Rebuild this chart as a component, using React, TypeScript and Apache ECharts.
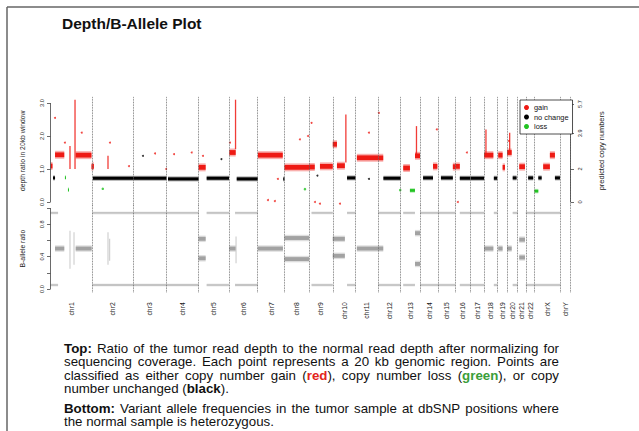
import React, { useEffect, useRef } from 'react';
import * as echarts from 'echarts';

// ---------- data ----------
const chromNames = ['chr1','chr2','chr3','chr4','chr5','chr6','chr7','chr8','chr9','chr10','chr11','chr12','chr13','chr14','chr15','chr16','chr17','chr18','chr19','chr20','chr21','chr22','chrX','chrY'];
const chromLengthsMb = [249.3, 243.2, 198.0, 191.2, 180.9, 171.1, 159.1, 146.4, 141.2, 135.5, 135.0, 133.9, 115.2, 107.3, 102.5, 90.4, 81.2, 78.1, 59.1, 63.0, 48.1, 51.3, 155.3, 59.4];

// depth ratio segments: [chromIndex, startMb, endMb, ratio]
const gainSegments = [
  [0, 1, 12, 1.09], [0, 27, 82, 1.43], [0, 150, 244, 1.42], [0, 244, 249, 1.07],
  [1, 0, 9, 1.08], [4, 0, 42, 1.05], [5, 2, 40, 1.5], [6, 1, 149, 1.42],
  [7, 0, 146, 1.05], [8, 0, 34, 1.06], [8, 65, 141, 1.08], [9, 0, 25, 1.75],
  [9, 25, 72, 1.1], [10, 8, 135, 1.34], [11, 0, 30, 1.34], [12, 15, 55, 1.03],
  [12, 85, 115, 1.4], [13, 77, 103, 1.08], [14, 88, 102, 1.07], [15, 0, 27, 1.08],
  [17, 0, 55, 1.42], [18, 6, 32, 1.42], [18, 32, 46, 1.05], [19, 0, 27, 1.5],
  [20, 9, 43, 1.07], [22, 52, 92, 1.07], [22, 92, 122, 1.42],
];
const neutralSegments = [
  [0, 15, 27, 0.73], [1, 3, 243, 0.72], [2, 0, 198, 0.72], [3, 9, 191, 0.7],
  [4, 48, 181, 0.72], [5, 46, 171, 0.7], [6, 152, 159, 0.7], [9, 85, 135, 0.73],
  [11, 31, 134, 0.72], [13, 18, 77, 0.73], [14, 17, 88, 0.73], [15, 27, 88, 0.72],
  [16, 0, 81, 0.72], [17, 58, 78, 0.72], [19, 33, 56, 0.73], [21, 14, 44, 0.73],
  [22, 23, 43, 0.73], [22, 122, 152, 0.73],
];
const lossSegments = [
  [0, 86, 90, 0.74], [0, 104, 108, 0.37], [12, 55, 85, 0.35], [22, 0, 23, 0.33],
];
// vertical streaks of gain points: [chromIndex, posMb, low, high]
const gainSpikes = [
  [0, 146, 1.0, 3.1], [0, 116, 1.0, 1.7], [1, 93, 1.0, 1.4], [5, 39, 1.6, 3.1],
  [9, 78, 1.2, 2.65], [12, 94, 1.4, 2.3], [17, 11, 1.4, 2.2], [19, 15, 1.5, 2.1],
];
// isolated points: [chromIndex, posMb, ratio]
const gainOutliers = [
  [0, 27, 2.55], [0, 86, 1.8], [0, 186, 2.1], [1, 105, 1.8], [1, 218, 1.09],
  [2, 130, 1.47], [2, 196, 1.0], [3, 45, 1.45], [3, 150, 1.5], [4, 26, 1.4],
  [5, 6, 1.8], [6, 61, 0.06], [6, 102, 0.03], [6, 120, 0.7], [7, 92, 1.9],
  [7, 140, 2.0], [8, 35, 0.0], [8, 65, -0.05], [8, 15, 2.4], [10, 80, 2.1],
  [11, 4, 2.7], [13, 100, 2.2], [15, 69, 1.5], [15, 15, 0.0], [9, 43, -0.05],
  [19, 11, 1.85],
];
const neutralOutliers = [[2, 58, 1.4], [4, 136, 1.3], [10, 80, 0.7], [8, 50, 0.8]];
const lossOutliers = [[1, 62, 0.4], [7, 122, 0.39], [11, 131, 0.36]];

const depthTicks = [0, 1, 2, 3];
const copyTickRatios = [0, 1, 2.08, 2.97];
const copyTickLabels = ['0', '2', '3.9', '5.7'];

// B-allele panel
const bafTicks = [0, 0.2, 0.4, 0.6, 0.8, 1.0];
const bafLabelValues = [0, 0.4, 0.8];
const homLevels = [0.05, 0.94];
// homozygous bands: [chromIndex, startMb, endMb]
const homRegions = [
  [0, 0, 45], [1, 0, 243.2], [2, 0, 198], [3, 0, 191.2], [4, 48, 180.9], [5, 36, 171.1],
  [8, 15, 141.2], [9, 85, 135.5], [11, 0, 133.9], [12, 15, 85], [13, 0, 107.3],
  [14, 0, 102.5], [15, 27, 90.4], [16, 0, 81.2], [17, 58, 78.1], [19, 33, 63],
  [21, 0, 51.3], [22, 0, 155.3],
];
// heterozygous clusters: [chromIndex, startMb, endMb, vaf]
const hetSegments = [
  [0, 27, 82, 0.5], [0, 150, 245, 0.5], [4, 0, 42, 0.62], [4, 0, 42, 0.38],
  [5, 2, 40, 0.5], [6, 1, 150, 0.5], [7, 0, 146, 0.63], [7, 0, 146, 0.37],
  [9, 0, 72, 0.62], [9, 0, 72, 0.41], [10, 8, 135, 0.5], [11, 0, 30, 0.5],
  [12, 85, 115, 0.69], [12, 85, 115, 0.31], [17, 0, 55, 0.5], [18, 6, 32, 0.5],
  [19, 0, 27, 0.5], [20, 9, 43, 0.61], [20, 9, 43, 0.39],
];
const hetStreaks = [
  [0, 116, 0.25, 0.72], [0, 140, 0.3, 0.7], [5, 42, 0.32, 0.65], [1, 93, 0.3, 0.7], [1, 103, 0.35, 0.62],
];

// ---------- derived ----------
const chromStarts: number[] = [];
chromLengthsMb.reduce((acc, l) => { chromStarts.push(acc); return acc + l; }, 0);
const totalMb = chromLengthsMb.reduce((a, b) => a + b, 0);
const chromEnds = chromStarts.map((s, i) => s + chromLengthsMb[i]);
const chromCenters = chromStarts.map((s, i) => s + chromLengthsMb[i] / 2);
const g = (c: number, p: number) => chromStarts[c] + p;

const segData = (arr: number[][]) => arr.map(([c, s, e, v]) => [g(c, s), g(c, e), v]);
const spikeData = (arr: number[][]) => arr.map(([c, p, lo, hi]) => [g(c, p), lo, hi]);
const ptData = (arr: number[][]) => arr.map(([c, p, v]) => [g(c, p), v]);

const RED = '#ee1a14';
const BLACK = '#000000';
const GREEN = '#22c322';

// fuzzy band: faint outer halo + solid core, to evoke the dense point cloud
const bandRender = (h: number, color: string) => (params: any, api: any) => {
  const a = api.coord([api.value(0), api.value(2)]);
  const b = api.coord([api.value(1), api.value(2)]);
  const w = Math.max(b[0] - a[0], 1);
  return {
    type: 'group',
    children: [
      { type: 'rect', shape: { x: a[0], y: a[1] - h / 2, width: w, height: h }, style: { fill: color, opacity: 0.35 } },
      { type: 'rect', shape: { x: a[0], y: a[1] - h * 0.3, width: w, height: h * 0.6 }, style: { fill: color } },
    ],
  };
};
const spikeRender = (w: number, color: string) => (params: any, api: any) => {
  const top = api.coord([api.value(0), api.value(2)]);
  const bot = api.coord([api.value(0), api.value(1)]);
  return {
    type: 'rect',
    shape: { x: top[0] - w / 2, y: top[1], width: w, height: bot[1] - top[1] },
    style: { fill: color, opacity: 0.85 },
  };
};

const FONT = 'Liberation Sans';

type Run = { t: string; b?: boolean; c?: string };
const captionLines: { y: number; justify: boolean; runs: Run[] }[] = [
  { y: 348, justify: true, runs: [{ t: 'Top:', b: true }, { t: ' Ratio of the tumor read depth to the normal read depth after normalizing for' }] },
  { y: 361.5, justify: true, runs: [{ t: 'sequencing coverage. Each point represents a 20 kb genomic region. Points are' }] },
  { y: 375, justify: true, runs: [{ t: 'classified as either copy number gain (' }, { t: 'red', b: true, c: '#e3241b' }, { t: '), copy number loss (' }, { t: 'green', b: true, c: '#3a9e3a' }, { t: '), or copy' }] },
  { y: 388.5, justify: false, runs: [{ t: 'number unchanged (' }, { t: 'black', b: true }, { t: ').' }] },
  { y: 408, justify: true, runs: [{ t: 'Bottom:', b: true }, { t: ' Variant allele frequencies in the tumor sample at dbSNP positions where' }] },
  { y: 421.5, justify: false, runs: [{ t: 'the normal sample is heterozygous.' }] },
];

function buildCaption(left: number, right: number, size: number) {
  const canvas = document.createElement('canvas');
  const ctx = canvas.getContext('2d')!;
  const fontOf = (b?: boolean) => `${b ? 'bold ' : ''}${size}px "${FONT}"`;
  const measure = (t: string, b?: boolean) => { ctx.font = fontOf(b); return ctx.measureText(t).width; };
  const els: any[] = [];
  captionLines.forEach((line) => {
    const words: Run[][] = [[]];
    line.runs.forEach((r) => {
      const parts = r.t.split(' ');
      parts.forEach((p, k) => {
        if (k > 0) words.push([]);
        if (p) words[words.length - 1].push({ t: p, b: r.b, c: r.c });
      });
    });
    const ws = words.filter((w) => w.length);
    const widths = ws.map((w) => w.reduce((s, r) => s + measure(r.t, r.b), 0));
    const sum = widths.reduce((a, b) => a + b, 0);
    const gap = line.justify && ws.length > 1 ? (right - left - sum) / (ws.length - 1) : measure(' ');
    let x = left;
    ws.forEach((w, i) => {
      let xx = x;
      w.forEach((r) => {
        els.push({
          type: 'text', x: xx, y: line.y, silent: true,
          style: { text: r.t, fill: r.c || '#111', fontSize: size, fontWeight: r.b ? 'bold' : 'normal', fontFamily: FONT, verticalAlign: 'middle', textVerticalAlign: 'middle' },
        });
        xx += measure(r.t, r.b);
      });
      x += widths[i] + gap;
    });
  });
  return els;
}

export default function App() {
  const ref = useRef<HTMLDivElement>(null);
  useEffect(() => {
    if (!ref.current) return;
    const chart = echarts.init(ref.current, undefined, { renderer: 'svg' });
    const nearestIdx = (arr: number[], v: number) => {
      let bi = 0; arr.forEach((a, i) => { if (Math.abs(a - v) < Math.abs(arr[bi] - v)) bi = i; }); return bi;
    };
    const dividerLine = { type: 'dotted', color: '#555', width: 0.8 };
    const axisLineStyle = { color: '#444', width: 0.8, type: 'solid' };
    const option: any = {
      animation: false,
      textStyle: { fontFamily: FONT },
      title: { text: 'Depth/B-Allele Plot', left: 62, top: 15, padding: 0, textStyle: { fontSize: 15.5, fontWeight: 'bold', color: '#111', fontFamily: FONT } },
      legend: {
        data: [{ name: 'gain', icon: 'circle' }, { name: 'no change', icon: 'circle' }, { name: 'loss', icon: 'circle' }],
        left: 520, top: 100, orient: 'vertical', itemWidth: 5, itemHeight: 5, itemGap: 2.5,
        padding: [4, 4, 4, 4], borderColor: '#222', borderWidth: 0.8, backgroundColor: '#fff',
        textStyle: { fontSize: 7.4, color: '#111', fontFamily: FONT }, selectedMode: false, z: 10,
      },
      grid: [
        { left: 50.5, width: 520, top: 96.4, height: 108.9, outerBoundsMode: 'none' },
        { left: 50.5, width: 520, top: 204.8, height: 87.5, outerBoundsMode: 'none' },
      ],
      xAxis: [
        { gridIndex: 0, type: 'value', min: 0, max: totalMb, show: false },
        {
          gridIndex: 1, type: 'value', min: 0, max: totalMb,
          axisLine: { show: false }, axisTick: { show: false }, splitLine: { show: false },
          axisLabel: {
            customValues: chromCenters, rotate: 90, fontSize: 6.8, margin: 10, color: '#222',
            formatter: (v: number) => chromNames[nearestIdx(chromCenters, v)],
          },
        },
      ],
      yAxis: [
        {
          gridIndex: 0, type: 'value', min: -0.1, max: 3.2,
          name: 'depth ratio in 20kb window', nameLocation: 'middle', nameRotate: 90, nameGap: 25,
          nameTextStyle: { fontSize: 6.8, color: '#222' },
          axisLine: { show: false }, splitLine: { show: false },
          axisTick: { show: true, length: 3.5, customValues: depthTicks, lineStyle: { color: '#444', width: 0.8 } },
          axisLabel: { customValues: depthTicks, formatter: (v: number) => v.toFixed(1), rotate: 90, fontSize: 5.6, margin: 6, color: '#222' },
        },
        {
          gridIndex: 0, type: 'value', min: -0.1, max: 3.2, position: 'right',
          name: 'predicted copy numbers', nameLocation: 'middle', nameRotate: 90, nameGap: 27,
          nameTextStyle: { fontSize: 7.4, color: '#222' },
          axisLine: { show: false }, splitLine: { show: false },
          axisTick: { show: true, length: 3.5, customValues: copyTickRatios, lineStyle: { color: '#444', width: 0.8 } },
          axisLabel: {
            customValues: copyTickRatios, rotate: 90, fontSize: 5.6, margin: 6, color: '#222',
            formatter: (v: number) => copyTickLabels[nearestIdx(copyTickRatios, v)],
          },
        },
        {
          gridIndex: 1, type: 'value', min: -0.04, max: 1.04,
          name: 'B-allele ratio', nameLocation: 'middle', nameRotate: 90, nameGap: 25,
          nameTextStyle: { fontSize: 6.8, color: '#222' },
          axisLine: { show: false }, splitLine: { show: false },
          axisTick: { show: true, length: 3.5, customValues: bafTicks, lineStyle: { color: '#444', width: 0.8 } },
          axisLabel: { customValues: bafLabelValues, formatter: (v: number) => v.toFixed(1), rotate: 90, fontSize: 5.6, margin: 6, color: '#222' },
        },
      ],
      series: [
        // bottom panel
        { type: 'custom', name: 'hom', xAxisIndex: 1, yAxisIndex: 2, renderItem: bandRender(3, '#c4c4c4'),
          data: homLevels.flatMap((lv) => homRegions.map(([c, s, e]) => [g(c, s), g(c, e), lv])) },
        { type: 'custom', name: 'het', xAxisIndex: 1, yAxisIndex: 2, renderItem: bandRender(6.5, '#a2a2a2'), data: segData(hetSegments) },
        { type: 'custom', name: 'hetStreak', xAxisIndex: 1, yAxisIndex: 2, renderItem: spikeRender(1, '#bdbdbd'), data: spikeData(hetStreaks) },
        { type: 'scatter', name: 'bottomLines', xAxisIndex: 1, yAxisIndex: 2, data: [], silent: true,
          markLine: { silent: true, symbol: ['none', 'none'], label: { show: false }, animation: false,
            data: [
              ...chromEnds.map((v) => ({ xAxis: v, lineStyle: dividerLine })),
              [{ coord: [0, 0], lineStyle: axisLineStyle }, { coord: [0, 1] }],
            ] } },
        // top panel
        { type: 'custom', name: 'gain', xAxisIndex: 0, yAxisIndex: 0, itemStyle: { color: RED }, renderItem: bandRender(8, RED), data: segData(gainSegments) },
        { type: 'custom', name: 'no change', xAxisIndex: 0, yAxisIndex: 0, itemStyle: { color: BLACK }, renderItem: bandRender(5, BLACK), data: segData(neutralSegments) },
        { type: 'custom', name: 'loss', xAxisIndex: 0, yAxisIndex: 0, itemStyle: { color: GREEN }, renderItem: bandRender(4.5, GREEN), data: segData(lossSegments) },
        { type: 'custom', name: 'gain', xAxisIndex: 0, yAxisIndex: 0, itemStyle: { color: RED }, renderItem: spikeRender(1.3, RED), data: spikeData(gainSpikes) },
        { type: 'scatter', name: 'gain', xAxisIndex: 0, yAxisIndex: 0, symbolSize: 2, itemStyle: { color: RED }, data: ptData(gainOutliers) },
        { type: 'scatter', name: 'no change', xAxisIndex: 0, yAxisIndex: 0, symbolSize: 2, itemStyle: { color: BLACK }, data: ptData(neutralOutliers) },
        { type: 'scatter', name: 'loss', xAxisIndex: 0, yAxisIndex: 0, symbolSize: 2.5, itemStyle: { color: GREEN }, data: ptData(lossOutliers) },
        { type: 'scatter', name: 'topLines', xAxisIndex: 0, yAxisIndex: 0, data: [], silent: true,
          markLine: { silent: true, symbol: ['none', 'none'], label: { show: false }, animation: false,
            data: [
              ...chromEnds.map((v) => ({ xAxis: v, lineStyle: dividerLine })),
              [{ coord: [0, 0], lineStyle: axisLineStyle }, { coord: [0, 3] }],
              [{ coord: [totalMb, 0], lineStyle: axisLineStyle }, { coord: [totalMb, 3] }],
            ] } },
      ],
      graphic: [
        { type: 'line', silent: true, shape: { x1: 7, y1: 7, x2: 639, y2: 7 }, style: { stroke: '#666', lineWidth: 1.5 } },
        { type: 'line', silent: true, shape: { x1: 7, y1: 7, x2: 7, y2: 431 }, style: { stroke: '#666', lineWidth: 1.5 } },
        ...buildCaption(64, 559, 13.3),
      ],
    };
    chart.setOption(option);
    return () => chart.dispose();
  }, []);
  return <div ref={ref} style={{ position: 'absolute', left: 0, top: 0, width: 639, height: 431, background: '#fff' }} />;
}
